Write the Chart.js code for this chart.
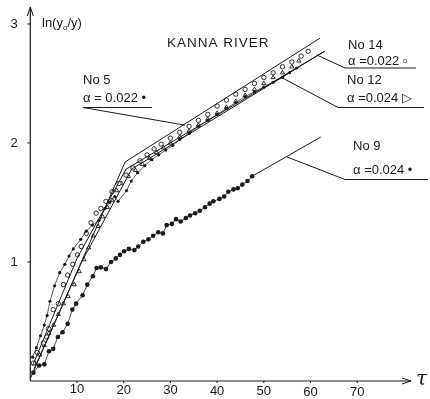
<!DOCTYPE html>
<html>
<head>
<meta charset="utf-8">
<script src="https://cdn.jsdelivr.net/npm/chart.js@4"></script>
<style>
  body { margin: 0; background: #fff; }
  canvas { display: block; }
</style>
</head>
<body>
<canvas id="chart" width="430" height="399"></canvas>
<script>
// axis ticks
const xTicks = [10, 20, 30, 40, 50, 60, 70];
const yTicks = [1, 2, 3];

// No 9 (big filled dots)
const x9 = [0.65, 1.9, 3.0, 4.0, 4.9, 5.9, 6.9, 8.0, 9.0, 9.8, 11.2, 12.2, 13.4, 14.2, 15.1, 16.2, 17.3, 18.3, 19.2, 20.1, 21.1, 22.3, 23.1, 24.2, 25.3, 26.3, 27.4, 28.4, 29.2, 30.3, 31.2, 32.2, 33.3, 34.2, 35.3, 36.3, 37.4, 38.4, 39.2, 40.5, 41.5, 42.4, 43.5, 44.4, 45.4, 46.5, 47.5];
const y9 = [0.07, 0.13, 0.14, 0.25, 0.27, 0.37, 0.41, 0.48, 0.60, 0.65, 0.72, 0.81, 0.88, 0.95, 0.955, 0.94, 1.00, 1.03, 1.06, 1.09, 1.11, 1.10, 1.13, 1.17, 1.19, 1.22, 1.25, 1.24, 1.31, 1.32, 1.36, 1.34, 1.37, 1.39, 1.41, 1.43, 1.46, 1.49, 1.51, 1.53, 1.55, 1.59, 1.61, 1.62, 1.65, 1.68, 1.72];

// No 5 (small filled dots)
const x5 = [0.5, 1.3, 2.2, 3.0, 3.6, 4.2, 5.2, 6.3, 7.4, 8.3, 9.2, 10.8, 12.0, 13.3, 14.7, 16.0, 17.0, 18.1, 18.8, 20.6, 21.6, 23.0, 24.5, 26.0, 27.5, 29.0, 30.5, 32.0, 34.0, 36.0, 38.0, 40.0, 42.0, 44.0, 46.0, 48.0, 50.0, 52.0, 54.0, 55.5, 57.0];
const y5 = [0.20, 0.28, 0.38, 0.47, 0.55, 0.67, 0.80, 0.91, 0.98, 1.05, 1.11, 1.19, 1.26, 1.31, 1.35, 1.45, 1.50, 1.55, 1.51, 1.60, 1.68, 1.75, 1.81, 1.86, 1.90, 1.94, 1.98, 2.03, 2.08, 2.14, 2.19, 2.24, 2.29, 2.34, 2.39, 2.43, 2.47, 2.51, 2.55, 2.59, 2.63];

// No 14 (open circles)
const x14 = [0.65, 1.5, 2.8, 3.5, 3.9, 4.9, 6.0, 7.1, 8.0, 9.1, 10.1, 10.9, 12.0, 13.0, 14.1, 15.1, 16.2, 17.5, 19.0, 20.5, 22.0, 23.5, 25.0, 26.5, 28.0, 30.0, 32.0, 34.0, 36.0, 38.0, 40.0, 42.0, 44.0, 46.0, 48.0, 50.0, 52.0, 54.0, 56.0, 58.0, 59.5];
const y14 = [0.15, 0.24, 0.32, 0.37, 0.44, 0.60, 0.65, 0.81, 0.89, 0.98, 1.06, 1.13, 1.24, 1.33, 1.41, 1.45, 1.51, 1.59, 1.66, 1.73, 1.79, 1.85, 1.90, 1.95, 1.99, 2.04, 2.09, 2.14, 2.19, 2.24, 2.31, 2.36, 2.41, 2.45, 2.50, 2.55, 2.59, 2.64, 2.68, 2.73, 2.77];

// No 12 (open triangles)
const x12 = [1.0, 2.0, 3.0, 4.0, 5.0, 6.0, 7.1, 8.1, 9.4, 10.5, 11.5, 12.5, 13.5, 14.5, 15.5, 16.5, 17.5, 18.5, 19.5, 21.0, 22.5, 24.0, 25.5, 27.0, 28.5, 30.0, 32.0, 34.0, 36.0, 38.0, 40.0, 42.0, 44.0, 46.0, 48.0, 50.0, 52.0, 54.0, 56.0, 57.5];
const y12 = [0.15, 0.22, 0.30, 0.40, 0.47, 0.56, 0.65, 0.71, 0.81, 0.92, 1.02, 1.12, 1.22, 1.30, 1.38, 1.46, 1.52, 1.60, 1.66, 1.72, 1.77, 1.82, 1.87, 1.92, 1.96, 2.00, 2.05, 2.10, 2.15, 2.20, 2.25, 2.30, 2.35, 2.40, 2.45, 2.50, 2.55, 2.59, 2.64, 2.69];

// fitted lines
const fit5x = [0.0, 20.3, 62.0];
const fit5y = [0.02, 1.84, 2.88];
const fit14x = [0.5, 10.0, 20.5, 63.0];
const fit14y = [0.13, 1.03, 1.78, 2.77];
const fit12x = [0.8, 11.0, 21.7, 63.0];
const fit12y = [0.10, 1.00, 1.78, 2.77];
const fit9x = [47.5, 62.2];
const fit9y = [1.72, 2.05];

function pts(xs, ys) {
    return xs.map(function(x, i) { return { x: x, y: ys[i] }; });
}

const ink = '#1a1a1a';

// labels, leader lines (ends in data units)
const labels = [
    { lines: ['No 5', 'α = 0.022 •'], left: 83, base: [84, 102], under: [83, 152, 107.5], to: [33.1, 2.15] },
    { lines: ['No 14', 'α =0.022 ▫'], left: 348, base: [49, 65], under: [345, 416, 68], to: [61.3, 2.74] },
    { lines: ['No 12', 'α =0.024 ▷'], left: 347, base: [84, 102], under: [338, 424, 107.5], to: [53.8, 2.55] },
    { lines: ['No 9', 'α =0.024 •'], left: 353, base: [150, 174], under: [345, 428, 179.5], to: [54.8, 1.885] }
];

const decor = {
    id: 'decor',
    afterDraw: function(chart) {
        const ctx = chart.ctx;
        const xs = chart.scales.x, ys = chart.scales.y;
        const x0 = xs.getPixelForValue(0), y0 = ys.getPixelForValue(0);
        ctx.save();
        ctx.strokeStyle = ink;
        ctx.fillStyle = ink;
        ctx.lineWidth = 1.2;

        // axes with arrows
        ctx.beginPath();
        ctx.moveTo(x0, y0);
        ctx.lineTo(x0, 8);
        ctx.moveTo(x0, y0);
        ctx.lineTo(411, y0);
        ctx.stroke();
        ctx.lineWidth = 1;
        ctx.beginPath();
        ctx.moveTo(x0 - 3, 16); ctx.lineTo(x0, 7); ctx.lineTo(x0 + 3, 16);
        ctx.moveTo(402, y0 - 3); ctx.lineTo(411, y0); ctx.lineTo(402, y0 + 3);
        ctx.stroke();

        // ticks and tick labels
        ctx.font = '13px "Liberation Sans", sans-serif';
        ctx.textAlign = 'center';
        ctx.textBaseline = 'middle';
        xTicks.forEach(function(t) {
            const px = xs.getPixelForValue(t);
            ctx.beginPath();
            ctx.moveTo(px, y0); ctx.lineTo(px, y0 + 2);
            ctx.stroke();
            ctx.fillText(String(t), px, y0 + 8 + t * 0.05);
        });
        yTicks.forEach(function(t) {
            const py = ys.getPixelForValue(t);
            ctx.beginPath();
            ctx.moveTo(x0 - 3, py); ctx.lineTo(x0, py);
            ctx.stroke();
            ctx.fillText(String(t), 14, py);
        });

        // axis names
        ctx.textAlign = 'left';
        ctx.textBaseline = 'alphabetic';
        ctx.font = '13px "Liberation Sans", sans-serif';
        let lx = 42;
        ctx.fillText('ln(y', lx, 27);
        lx += ctx.measureText('ln(y').width;
        ctx.font = '8px "Liberation Sans", sans-serif';
        ctx.fillText('o', lx, 30);
        lx += ctx.measureText('o').width;
        ctx.font = '13px "Liberation Sans", sans-serif';
        ctx.fillText('/y)', lx, 27);

        ctx.font = 'italic 20px "DejaVu Serif", serif';
        ctx.fillText('τ', 416, 385);

        ctx.font = '13.5px "Liberation Sans", sans-serif';
        ctx.letterSpacing = '1px';
        ctx.fillText('KANNA RIVER', 167, 47);
        ctx.letterSpacing = '0px';

        // series labels with leader lines
        ctx.font = '13px "Liberation Sans", sans-serif';
        ctx.lineWidth = 1;
        labels.forEach(function(l) {
            l.lines.forEach(function(s, i) { ctx.fillText(s, l.left, l.base[i]); });
            const u = l.under;
            ctx.beginPath();
            ctx.moveTo(u[1], u[2]);
            ctx.lineTo(u[0], u[2]);
            ctx.lineTo(xs.getPixelForValue(l.to[0]), ys.getPixelForValue(l.to[1]));
            ctx.stroke();
        });
        ctx.restore();
    }
};

function fitSet(xs, ys) {
    return { data: pts(xs, ys), showLine: true, borderColor: ink, borderWidth: 1, pointRadius: 0, fill: false, tension: 0 };
}

new Chart(document.getElementById('chart').getContext('2d'), {
    type: 'scatter',
    data: {
        datasets: [
            fitSet(fit5x, fit5y),
            fitSet(fit14x, fit14y),
            fitSet(fit12x, fit12y),
            fitSet(fit9x, fit9y),
            {
                label: 'No 9', data: pts(x9, y9), showLine: true, borderColor: ink, borderWidth: 0.8,
                pointStyle: 'circle', pointRadius: 2.3, pointBackgroundColor: ink, pointBorderWidth: 0
            },
            {
                label: 'No 5', data: pts(x5, y5), showLine: true, borderColor: ink, borderWidth: 0.7,
                pointStyle: 'circle', pointRadius: 1.6, pointBackgroundColor: ink, pointBorderWidth: 0
            },
            {
                label: 'No 14', data: pts(x14, y14), showLine: false,
                pointStyle: 'circle', pointRadius: 2.2, pointBackgroundColor: '#fff', pointBorderColor: ink, pointBorderWidth: 0.9
            },
            {
                label: 'No 12', data: pts(x12, y12), showLine: false,
                pointStyle: 'triangle', pointRadius: 2.4, pointBackgroundColor: '#fff', pointBorderColor: ink, pointBorderWidth: 0.9
            }
        ]
    },
    options: {
        responsive: false,
        animation: false,
        devicePixelRatio: 1,
        layout: { padding: { left: 30.3, right: 20, top: 8, bottom: 18 } },
        scales: {
            x: { type: 'linear', min: 0, max: 81.3, display: false },
            y: { type: 'linear', min: 0, max: 3.134, display: false }
        },
        plugins: { legend: { display: false }, tooltip: { enabled: false } },
        clip: false
    },
    plugins: [decor]
});
</script>
</body>
</html>
